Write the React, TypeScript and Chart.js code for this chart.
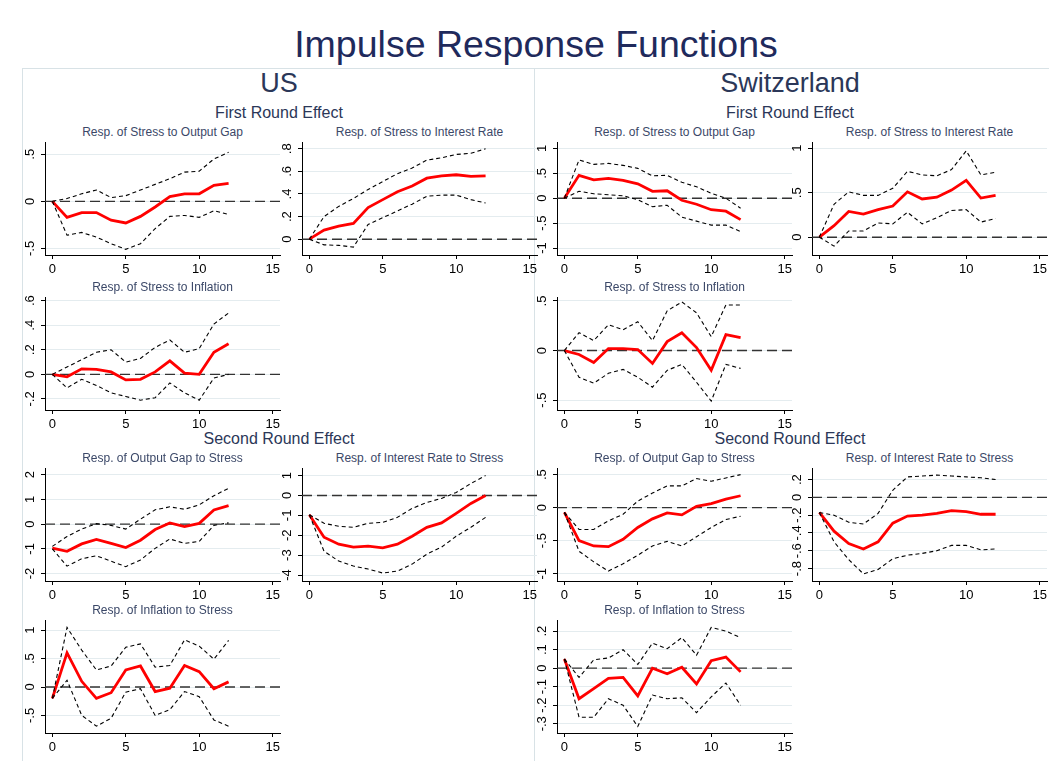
import React, { useEffect, useRef } from "react";
import { Chart, registerables } from "chart.js";

Chart.register(...registerables);

// ---------- DATA ----------
const horizons = [0, 1, 2, 3, 4, 5, 6, 7, 8, 9, 10, 11, 12];
const xTicks = [0, 5, 10, 15];

// US – First round
const usStressOutputGap = [0, -0.17, -0.12, -0.12, -0.2, -0.23, -0.16, -0.06, 0.05, 0.08, 0.08, 0.17, 0.19];
const usStressOutputGapUpper = [0, 0.03, 0.08, 0.12, 0.04, 0.06, 0.12, 0.18, 0.24, 0.31, 0.32, 0.45, 0.52];
const usStressOutputGapLower = [0, -0.36, -0.33, -0.38, -0.45, -0.51, -0.45, -0.29, -0.16, -0.15, -0.17, -0.1, -0.14];
const usStressOutputGapTicks = [-0.5, 0, 0.5];

const usStressInterest = [0, 0.08, 0.115, 0.14, 0.28, 0.35, 0.42, 0.47, 0.54, 0.56, 0.57, 0.555, 0.56];
const usStressInterestUpper = [0, 0.2, 0.29, 0.36, 0.44, 0.51, 0.58, 0.63, 0.7, 0.72, 0.75, 0.76, 0.8];
const usStressInterestLower = [0, -0.05, -0.055, -0.07, 0.13, 0.19, 0.25, 0.31, 0.38, 0.39, 0.39, 0.35, 0.32];
const usStressInterestTicks = [0, 0.2, 0.4, 0.6, 0.8];

const usStressInflation = [0, -0.02, 0.045, 0.04, 0.02, -0.045, -0.04, 0.02, 0.11, 0.01, 0.0, 0.18, 0.25];
const usStressInflationUpper = [0, 0.06, 0.12, 0.18, 0.2, 0.1, 0.13, 0.22, 0.28, 0.18, 0.21, 0.41, 0.5];
const usStressInflationLower = [0, -0.11, -0.04, -0.09, -0.15, -0.18, -0.21, -0.19, -0.07, -0.15, -0.21, -0.03, 0.0];
const usStressInflationTicks = [-0.2, 0, 0.2, 0.4, 0.6];

// US – Second round
const usOutputGapStress = [-0.97, -1.1, -0.8, -0.62, -0.78, -0.95, -0.65, -0.22, 0.05, -0.1, 0.03, 0.57, 0.75];
const usOutputGapStressUpper = [-0.9, -0.5, -0.2, 0.02, -0.05, -0.2, 0.2, 0.58, 0.7, 0.6, 0.78, 1.15, 1.45];
const usOutputGapStressLower = [-1.0, -1.7, -1.4, -1.28, -1.5, -1.72, -1.45, -0.98, -0.6, -0.78, -0.7, -0.05, 0.05];
const usOutputGapStressTicks = [-2, -1, 0, 1, 2];

const usInterestStress = [-0.97, -2.1, -2.45, -2.6, -2.55, -2.63, -2.45, -2.05, -1.6, -1.38, -0.9, -0.4, 0.0];
const usInterestStressUpper = [-0.97, -1.4, -1.55, -1.6, -1.4, -1.35, -1.1, -0.65, -0.35, -0.15, 0.15, 0.6, 1.0];
const usInterestStressLower = [-0.97, -2.8, -3.3, -3.55, -3.7, -3.9, -3.8, -3.45, -2.95, -2.6, -2.05, -1.6, -1.1];
const usInterestStressTicks = [-4, -3, -2, -1, 0, 1];

const usInflationStress = [-0.2, 0.6, 0.1, -0.2, -0.1, 0.3, 0.37, -0.08, -0.02, 0.38, 0.27, -0.03, 0.09];
const usInflationStressUpper = [-0.2, 1.05, 0.65, 0.3, 0.37, 0.7, 0.76, 0.35, 0.38, 0.83, 0.72, 0.49, 0.82];
const usInflationStressLower = [-0.2, 0.12, -0.5, -0.69, -0.55, -0.09, -0.03, -0.5, -0.4, -0.08, -0.17, -0.58, -0.69];
const usInflationStressTicks = [-0.5, 0, 0.5, 1];

// Switzerland – First round
const chStressOutputGap = [0, 0.46, 0.37, 0.4, 0.36, 0.29, 0.14, 0.15, -0.04, -0.12, -0.23, -0.26, -0.43];
const chStressOutputGapUpper = [0, 0.77, 0.68, 0.7, 0.66, 0.6, 0.45, 0.46, 0.32, 0.23, 0.1, 0.0, -0.2];
const chStressOutputGapLower = [0, 0.14, 0.09, 0.07, 0.05, -0.03, -0.17, -0.14, -0.38, -0.46, -0.54, -0.54, -0.67];
const chStressOutputGapTicks = [-1, -0.5, 0, 0.5, 1];

const chStressInterest = [0, 0.13, 0.29, 0.26, 0.31, 0.35, 0.51, 0.43, 0.45, 0.53, 0.64, 0.44, 0.47];
const chStressInterestUpper = [0, 0.37, 0.51, 0.47, 0.47, 0.55, 0.74, 0.7, 0.69, 0.76, 0.97, 0.7, 0.73];
const chStressInterestLower = [0, -0.1, 0.07, 0.07, 0.16, 0.15, 0.28, 0.15, 0.22, 0.3, 0.31, 0.17, 0.21];
const chStressInterestTicks = [0, 0.5, 1];

const chStressInflation = [0, -0.04, -0.12, 0.02, 0.02, 0.01, -0.13, 0.09, 0.18, 0.03, -0.2, 0.16, 0.13];
const chStressInflationUpper = [0, 0.18, 0.1, 0.26, 0.21, 0.29, 0.1, 0.4, 0.49, 0.38, 0.14, 0.46, 0.46];
const chStressInflationLower = [0, -0.27, -0.33, -0.23, -0.19, -0.27, -0.37, -0.2, -0.14, -0.32, -0.51, -0.14, -0.18];
const chStressInflationTicks = [-0.5, 0, 0.5];

// Switzerland – Second round
const chOutputGapStress = [-0.07, -0.5, -0.58, -0.59, -0.48, -0.3, -0.17, -0.08, -0.11, 0.02, 0.06, 0.13, 0.18];
const chOutputGapStressUpper = [-0.07, -0.33, -0.33, -0.2, -0.1, 0.1, 0.22, 0.33, 0.33, 0.44, 0.4, 0.45, 0.5];
const chOutputGapStressLower = [-0.07, -0.66, -0.82, -0.96, -0.85, -0.72, -0.58, -0.51, -0.58, -0.44, -0.3, -0.18, -0.13];
const chOutputGapStressTicks = [-1, -0.5, 0, 0.5];

const chInterestStress = [-0.17, -0.38, -0.52, -0.58, -0.5, -0.29, -0.21, -0.2, -0.18, -0.15, -0.16, -0.19, -0.19];
const chInterestStressUpper = [-0.17, -0.2, -0.28, -0.3, -0.18, 0.08, 0.23, 0.24, 0.25, 0.24, 0.23, 0.22, 0.2];
const chInterestStressLower = [-0.17, -0.5, -0.7, -0.86, -0.81, -0.69, -0.65, -0.63, -0.6, -0.54, -0.54, -0.59, -0.58];
const chInterestStressTicks = [-0.8, -0.6, -0.4, -0.2, 0, 0.2];

const chInflationStress = [0.05, -0.165, -0.11, -0.055, -0.05, -0.15, 0.0, -0.03, 0.005, -0.085, 0.04, 0.06, -0.02];
const chInflationStressUpper = [0.05, -0.05, 0.045, 0.055, 0.1, 0.02, 0.135, 0.105, 0.165, 0.07, 0.22, 0.2, 0.165];
const chInflationStressLower = [0.05, -0.265, -0.265, -0.165, -0.2, -0.315, -0.145, -0.165, -0.16, -0.24, -0.155, -0.08, -0.2];
const chInflationStressTicks = [-0.3, -0.2, -0.1, 0, 0.1, 0.2];

// ---------- LAYOUT ----------
const colX = [45, 302, 557, 812];
const rowTop = [142, 297, 468, 620];
const plotW = 235;
const plotH = 113;

type Panel = {
  title: string;
  col: number;
  row: number;
  irf: number[];
  upper: number[];
  lower: number[];
  ticks: number[];
  min: number;
  max: number;
};

const panels: Panel[] = [
  { title: "Resp. of Stress to Output Gap", col: 0, row: 0, irf: usStressOutputGap, upper: usStressOutputGapUpper, lower: usStressOutputGapLower, ticks: usStressOutputGapTicks, min: -0.57, max: 0.63 },
  { title: "Resp. of Stress to Interest Rate", col: 1, row: 0, irf: usStressInterest, upper: usStressInterestUpper, lower: usStressInterestLower, ticks: usStressInterestTicks, min: -0.14, max: 0.86 },
  { title: "Resp. of Stress to Inflation", col: 0, row: 1, irf: usStressInflation, upper: usStressInflationUpper, lower: usStressInflationLower, ticks: usStressInflationTicks, min: -0.29, max: 0.63 },
  { title: "Resp. of Output Gap to Stress", col: 0, row: 2, irf: usOutputGapStress, upper: usOutputGapStressUpper, lower: usOutputGapStressLower, ticks: usOutputGapStressTicks, min: -2.3, max: 2.27 },
  { title: "Resp. of Interest Rate to Stress", col: 1, row: 2, irf: usInterestStress, upper: usInterestStressUpper, lower: usInterestStressLower, ticks: usInterestStressTicks, min: -4.3, max: 1.38 },
  { title: "Resp. of Inflation to Stress", col: 0, row: 3, irf: usInflationStress, upper: usInflationStressUpper, lower: usInflationStressLower, ticks: usInflationStressTicks, min: -0.81, max: 1.18 },
  { title: "Resp. of Stress to Output Gap", col: 2, row: 0, irf: chStressOutputGap, upper: chStressOutputGapUpper, lower: chStressOutputGapLower, ticks: chStressOutputGapTicks, min: -1.14, max: 1.13 },
  { title: "Resp. of Stress to Interest Rate", col: 3, row: 0, irf: chStressInterest, upper: chStressInterestUpper, lower: chStressInterestLower, ticks: chStressInterestTicks, min: -0.2, max: 1.07 },
  { title: "Resp. of Stress to Inflation", col: 2, row: 1, irf: chStressInflation, upper: chStressInflationUpper, lower: chStressInflationLower, ticks: chStressInflationTicks, min: -0.6, max: 0.54 },
  { title: "Resp. of Output Gap to Stress", col: 2, row: 2, irf: chOutputGapStress, upper: chOutputGapStressUpper, lower: chOutputGapStressLower, ticks: chOutputGapStressTicks, min: -1.11, max: 0.6 },
  { title: "Resp. of Interest Rate to Stress", col: 3, row: 2, irf: chInterestStress, upper: chInterestStressUpper, lower: chInterestStressLower, ticks: chInterestStressTicks, min: -0.94, max: 0.33 },
  { title: "Resp. of Inflation to Stress", col: 2, row: 3, irf: chInflationStress, upper: chInflationStressUpper, lower: chInflationStressLower, ticks: chInflationStressTicks, min: -0.35, max: 0.26 },
];

const FONT = "'Liberation Sans', Arial, Helvetica, sans-serif";
const TITLE_COLOR = "#3b4868";
const HEAD_COLOR = "#2b3758";
const GRID = "#e4ecef";
const FRAME = "#d8e2e6";

function stataLabel(v: number): string {
  if (v === 0) return "0";
  const s = String(Math.round(v * 1000) / 1000);
  return s.replace(/^(-?)0\./, "$1.");
}

const LEFT_PAD = 30;
const RIGHT_PAD = 9;
const TOP_PAD = 8;
const X_AXIS_H = 26;

const zeroLinePlugin = {
  id: "zeroLine",
  beforeDatasetsDraw(chart: any) {
    const { ctx, chartArea, scales } = chart;
    const y = scales.y.getPixelForValue(0);
    ctx.save();
    ctx.strokeStyle = "#333";
    ctx.lineWidth = 1.4;
    ctx.setLineDash([10, 5]);
    ctx.beginPath();
    ctx.moveTo(chartArea.left, y);
    ctx.lineTo(chartArea.right, y);
    ctx.stroke();
    ctx.restore();
  },
};

const yLabelPlugin = {
  id: "yLabels",
  afterDraw(chart: any) {
    const { ctx, scales } = chart;
    const ys = scales.y;
    ctx.save();
    ctx.fillStyle = "#000";
    ctx.font = `13px ${FONT}`;
    ctx.textAlign = "center";
    ctx.textBaseline = "bottom";
    ys.ticks.forEach((t: any) => {
      const py = ys.getPixelForValue(t.value);
      ctx.save();
      ctx.translate(ys.right - 8, py);
      ctx.rotate(-Math.PI / 2);
      ctx.fillText(stataLabel(t.value), 0, 0);
      ctx.restore();
    });
    ctx.restore();
  },
};

function PanelChart({ p }: { p: Panel }) {
  const ref = useRef<HTMLCanvasElement>(null);
  useEffect(() => {
    if (!ref.current) return;
    const mk = (arr: number[]) => horizons.map((h, i) => ({ x: h, y: arr[i] }));
    const chart = new Chart(ref.current, {
      type: "line",
      data: {
        datasets: [
          { data: mk(p.upper), borderColor: "#000", borderWidth: 1.1, borderDash: [4, 3], pointRadius: 0, tension: 0, fill: false },
          { data: mk(p.lower), borderColor: "#000", borderWidth: 1.1, borderDash: [4, 3], pointRadius: 0, tension: 0, fill: false },
          { data: mk(p.irf), borderColor: "#ff0000", borderWidth: 2.8, pointRadius: 0, tension: 0, fill: false },
        ],
      },
      options: {
        responsive: false,
        animation: false,
        events: [],
        layout: { padding: { left: 0, right: RIGHT_PAD, top: TOP_PAD, bottom: 0 } },
        plugins: { legend: { display: false }, tooltip: { enabled: false }, title: { display: false } },
        scales: {
          x: {
            type: "linear",
            min: -0.5,
            max: 15.5,
            afterBuildTicks: (s: any) => { s.ticks = xTicks.map((v) => ({ value: v })); },
            afterFit: (s: any) => { s.height = X_AXIS_H; },
            grid: { drawOnChartArea: false, drawTicks: true, tickLength: 4, tickColor: "#000", tickWidth: 1 },
            border: { display: true, color: "#000", width: 1 },
            ticks: { color: "#000", font: { family: FONT, size: 13 }, padding: 3, maxRotation: 0, minRotation: 0, autoSkip: false },
          },
          y: {
            type: "linear",
            min: p.min,
            max: p.max,
            afterBuildTicks: (s: any) => { s.ticks = p.ticks.map((v) => ({ value: v })); },
            afterFit: (s: any) => { s.width = LEFT_PAD; },
            grid: { drawOnChartArea: true, color: GRID, lineWidth: 1, drawTicks: true, tickLength: 4, tickColor: "#000", tickWidth: 1 },
            border: { display: true, color: "#000", width: 1 },
            ticks: { color: "rgba(0,0,0,0)", font: { size: 1 }, padding: 0, autoSkip: false },
          },
        },
      },
      plugins: [zeroLinePlugin, yLabelPlugin],
    } as any);
    return () => chart.destroy();
  }, [p]);
  const left = colX[p.col] - LEFT_PAD;
  const top = rowTop[p.row] - TOP_PAD;
  const w = LEFT_PAD + plotW + RIGHT_PAD;
  const h = TOP_PAD + plotH + X_AXIS_H;
  return (
    <>
      <div
        style={{
          position: "absolute",
          left: colX[p.col],
          top: rowTop[p.row] - 17,
          width: plotW,
          textAlign: "center",
          font: `12px ${FONT}`,
          color: TITLE_COLOR,
          lineHeight: "14px",
          whiteSpace: "nowrap",
        }}
      >
        {p.title}
      </div>
      <canvas ref={ref} width={w} height={h} style={{ position: "absolute", left, top, width: w, height: h }} />
    </>
  );
}

function Text({ x, y, size, color, children }: { x: number; y: number; size: number; color: string; children: React.ReactNode }) {
  return (
    <div
      style={{
        position: "absolute",
        left: x - 300,
        top: y - size * 0.6,
        width: 600,
        textAlign: "center",
        font: `${size}px ${FONT}`,
        lineHeight: `${size * 1.2}px`,
        color,
        whiteSpace: "nowrap",
      }}
    >
      {children}
    </div>
  );
}

export default function App() {
  return (
    <div style={{ position: "relative", width: 1057, height: 769, margin: -8, background: "#fff", overflow: "hidden" }}>
      {/* frame */}
      <div style={{ position: "absolute", left: 22, top: 68, width: 1028, height: 696, border: `1px solid ${FRAME}`, boxSizing: "border-box" }} />
      <div style={{ position: "absolute", left: 534, top: 68, width: 1, height: 696, background: FRAME }} />

      <Text x={536} y={44} size={37.5} color="#1f2a5c">Impulse Response Functions</Text>
      <Text x={279} y={83} size={27} color={HEAD_COLOR}>US</Text>
      <Text x={790} y={83} size={27} color={HEAD_COLOR}>Switzerland</Text>
      <Text x={279} y={113} size={16} color={HEAD_COLOR}>First Round Effect</Text>
      <Text x={790} y={113} size={16} color={HEAD_COLOR}>First Round Effect</Text>
      <Text x={279} y={439} size={16} color={HEAD_COLOR}>Second Round Effect</Text>
      <Text x={790} y={439} size={16} color={HEAD_COLOR}>Second Round Effect</Text>

      {panels.map((p, i) => (
        <PanelChart key={i} p={p} />
      ))}
    </div>
  );
}
